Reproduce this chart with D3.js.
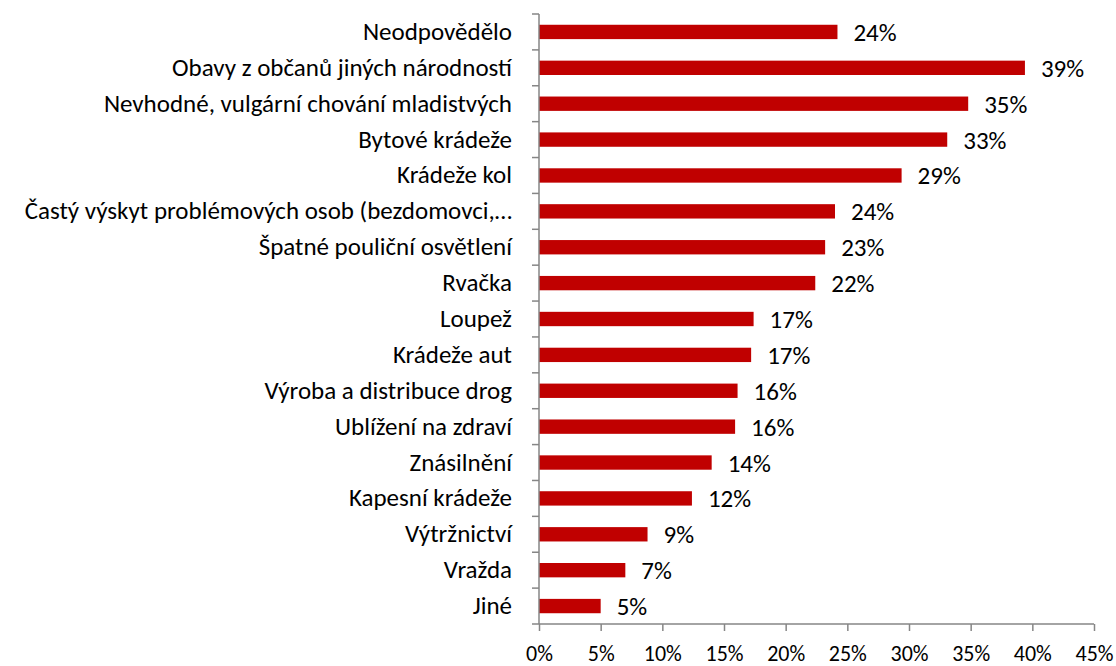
<!DOCTYPE html>
<html>
<head>
<meta charset="utf-8">
<script src="https://cdn.jsdelivr.net/npm/d3@7"></script>
<style>
  body { margin: 0; background: #fff; }
  svg text { font-family: Carlito, Lato, "Open Sans", sans-serif; fill: #000; }
</style>
</head>
<body>
<svg width="1116" height="666"></svg>
<script>
// Categories top to bottom
var categories = [
    "Neodpovědělo",
    "Obavy z občanů jiných národností",
    "Nevhodné, vulgární chování mladistvých",
    "Bytové krádeže",
    "Krádeže kol",
    "Častý výskyt problémových osob (bezdomovci,…",
    "Špatné pouliční osvětlení",
    "Rvačka",
    "Loupež",
    "Krádeže aut",
    "Výroba a distribuce drog",
    "Ublížení na zdraví",
    "Znásilnění",
    "Kapesní krádeže",
    "Výtržnictví",
    "Vražda",
    "Jiné"
];
var values = [24.2, 39.4, 34.8, 33.1, 29.4, 24.0, 23.2, 22.4, 17.4, 17.2, 16.1, 15.9, 14.0, 12.4, 8.8, 7.0, 5.0];
var xTicks = [0, 5, 10, 15, 20, 25, 30, 35, 40, 45];

var svg = d3.select("svg"),
    plotLeft = 539, plotRight = 1094, plotTop = 14, plotBottom = 624,
    fontSize = "25px";

var x = d3.scaleLinear().domain([0, 45]).range([plotLeft, plotRight]);
var y = d3.scaleBand().domain(categories).range([plotTop, plotBottom]).paddingInner(0.6).paddingOuter(0.3);

// Bars
svg.append("g")
    .selectAll("rect")
    .data(values)
    .enter().append("rect")
    .attr("x", x(0))
    .attr("y", function(d, i) { return y(categories[i]); })
    .attr("width", function(d) { return x(d) - x(0); })
    .attr("height", y.bandwidth())
    .attr("fill", "#c00000");

// Value labels
svg.append("g")
    .selectAll("text")
    .data(values)
    .enter().append("text")
    .attr("x", function(d) { return x(d) + 16; })
    .attr("y", function(d, i) { return y(categories[i]) + y.bandwidth() / 2; })
    .attr("dy", "0.36em")
    .style("font-size", fontSize)
    .text(function(d) { return Math.round(d) + "%"; });

// Bottom axis
var xAxis = svg.append("g")
    .attr("transform", "translate(0," + plotBottom + ")")
    .call(d3.axisBottom(x).tickValues(xTicks).tickSize(7)
        .tickFormat(function(d) { return d + "%"; }));
xAxis.selectAll("path, line").attr("stroke", "#868686").attr("stroke-width", 1.5);
xAxis.select(".domain").attr("d", "M" + plotLeft + ",0H" + plotRight);
xAxis.selectAll("text").style("font-size", "22px").attr("fill", "#000")
    .attr("y", 37).attr("dy", 0);

// Left axis
var yAxis = svg.append("g")
    .attr("transform", "translate(" + plotLeft + ",0)")
    .call(d3.axisLeft(y).tickSize(0).tickPadding(27));
yAxis.select(".domain").attr("d", "M0," + plotTop + "V" + plotBottom)
    .attr("stroke", "#868686").attr("stroke-width", 1.5);
yAxis.selectAll("text").style("font-size", fontSize).attr("fill", "#000");

// Category boundary ticks
var step = (plotBottom - plotTop) / categories.length;
svg.append("g")
    .selectAll("line")
    .data(d3.range(categories.length + 1))
    .enter().append("line")
    .attr("x1", plotLeft - 7).attr("x2", plotLeft)
    .attr("y1", function(i) { return plotTop + i * step; })
    .attr("y2", function(i) { return plotTop + i * step; })
    .attr("stroke", "#868686").attr("stroke-width", 1.5);
</script>
</body>
</html>
